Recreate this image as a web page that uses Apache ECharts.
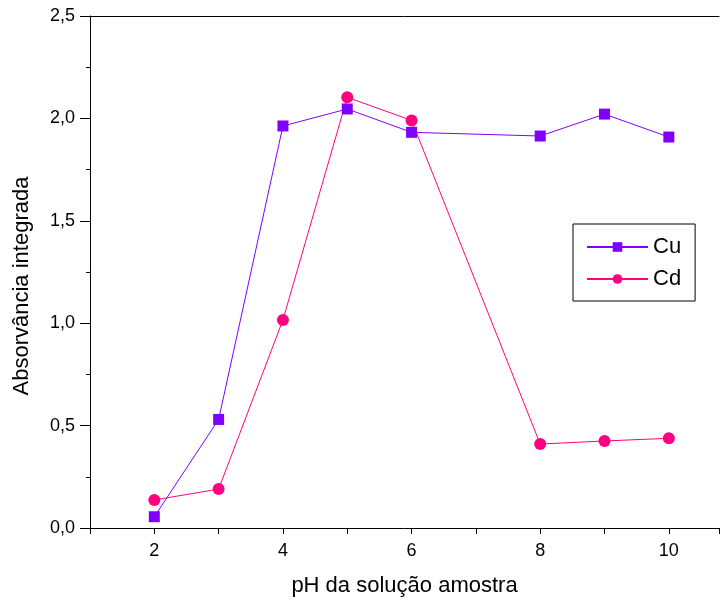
<!DOCTYPE html>
<html>
<head>
<meta charset="utf-8">
<script src="https://cdn.jsdelivr.net/npm/echarts@6/dist/echarts.min.js"></script>
<style>
html,body{margin:0;padding:0;background:#fff;}
#chart{width:722px;height:603px;}
</style>
</head>
<body>
<div id="chart"></div>
<script>
// pH values and integrated absorbance
let ph=[2,3,4,5,6,8,9,10]
let cu=[0.055,0.53,1.963,2.046,1.932,1.914,2.021,1.909]
let cd=[0.137,0.19,1.016,2.103,1.99,0.41,0.425,0.438]

let myChart=echarts.init(document.getElementById("chart"))
let font="Liberation Sans, Arial, sans-serif"
let pairs=(xs,ys)=>xs.map((x,i)=>[x,ys[i]])
// the plot frame runs past the right edge of the picture, so the x range stops near 10.8
let xMin=1, xMax=10.78

myChart.setOption({
  animation:false,
  textStyle:{fontFamily:font},
  grid:{
    left:90,
    top:16,
    bottom:75,
    right:0
  },
  legend:{
    orient:"vertical",
    left:573,
    top:224,
    padding:[12,14,11,13],
    itemWidth:61,
    itemHeight:12,
    itemGap:10,
    borderColor:"#000",
    borderWidth:1,
    textStyle:{fontSize:22,color:"#000",fontFamily:font},
    data:["Cu","Cd"]
  },
  xAxis:[
    {
      type:"value",
      min:xMin,
      max:xMax,
      interval:1,
      name:"pH da solução amostra",
      nameLocation:"middle",
      nameGap:47,
      nameTextStyle:{fontSize:22,color:"#000",fontFamily:font},
      splitLine:{show:false},
      axisLine:{lineStyle:{color:"#000",width:1}},
      axisTick:{length:6,lineStyle:{color:"#000"}},
      axisLabel:{
        fontSize:18,
        color:"#000",
        margin:14,
        formatter:(v)=>(v%2===0 ? String(v) : "")
      }
    },
    {
      type:"value",
      position:"top",
      min:xMin,
      max:xMax,
      splitLine:{show:false},
      axisLine:{lineStyle:{color:"#000",width:1}},
      axisTick:{show:false},
      axisLabel:{show:false}
    }
  ],
  yAxis:{
    type:"value",
    min:0,
    max:2.5,
    interval:0.5,
    name:"Absorvância integrada",
    nameLocation:"middle",
    nameGap:57,
    nameTextStyle:{fontSize:22,color:"#000",fontFamily:font,padding:[0,28,0,0]},
    splitLine:{show:false},
    axisLine:{lineStyle:{color:"#000",width:1}},
    axisTick:{length:10,lineStyle:{color:"#000"}},
    minorTick:{show:true,splitNumber:2,length:4,lineStyle:{color:"#000"}},
    axisLabel:{
      fontSize:18,
      color:"#000",
      margin:15,
      formatter:(v)=>v.toFixed(1).replace(".",",")
    }
  },
  series:[
    {
      name:"Cu",
      type:"line",
      data:pairs(ph,cu),
      symbol:"rect",
      symbolSize:11,
      itemStyle:{color:"#8000ff"},
      lineStyle:{color:"#8000ff",width:1}
    },
    {
      name:"Cd",
      type:"line",
      data:pairs(ph,cd),
      symbol:"circle",
      symbolSize:12,
      itemStyle:{color:"#ff0080"},
      lineStyle:{color:"#ff0080",width:1}
    }
  ]
})
</script>
</body>
</html>
